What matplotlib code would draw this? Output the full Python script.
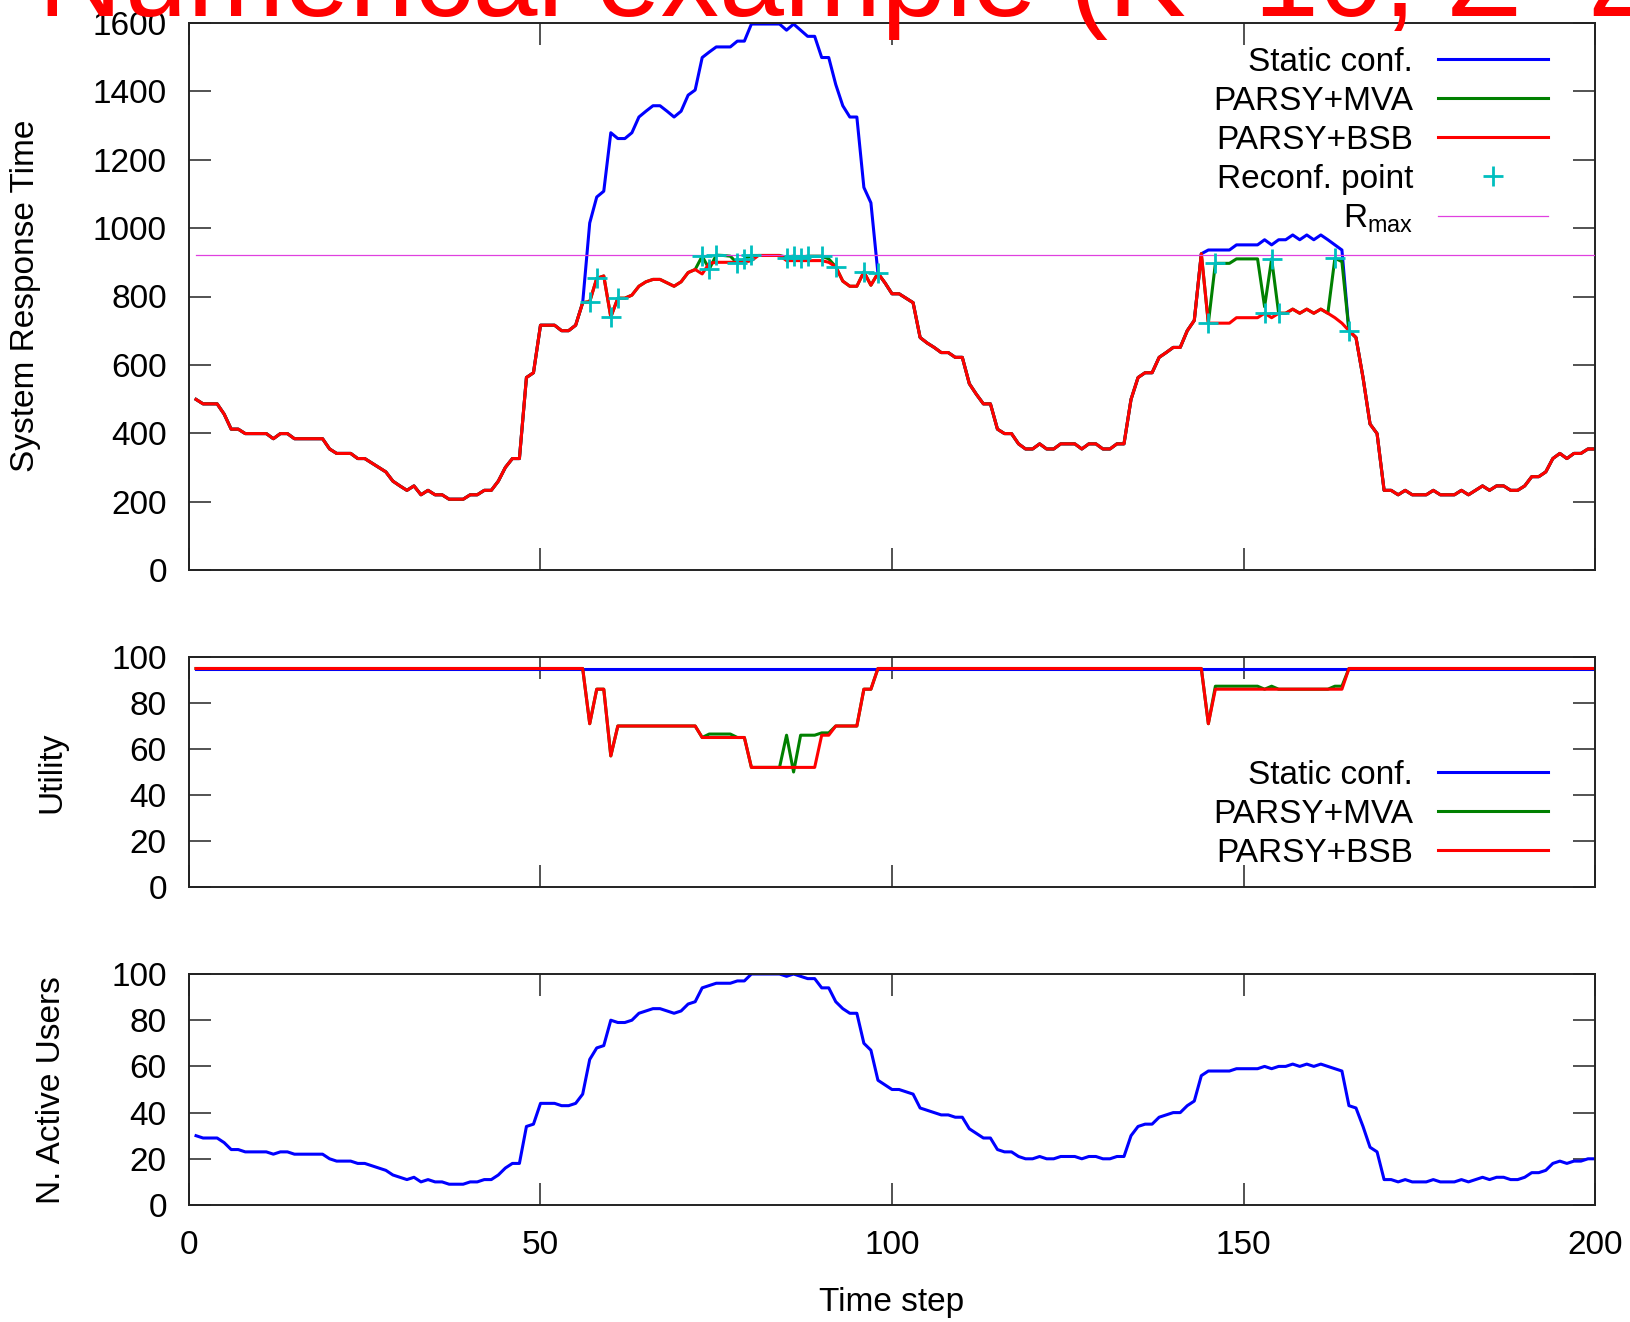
import matplotlib
matplotlib.use("Agg")
import matplotlib.pyplot as plt
import numpy as np

plt.rcParams['font.family'] = ['Liberation Sans', 'DejaVu Sans']
plt.rcParams['mathtext.fontset'] = 'custom'
plt.rcParams['mathtext.rm'] = 'Liberation Sans'
plt.rcParams['mathtext.it'] = 'Liberation Sans:italic'

# time steps 1..200
steps = np.arange(1, 201)

# number of active users per step
users = [
    30, 29, 29, 29, 27, 24, 24, 23, 23, 23, 23, 22, 23, 23, 22, 22, 22, 22, 22, 20,
    19, 19, 19, 18, 18, 17, 16, 15, 13, 12, 11, 12, 10, 11, 10, 10, 9, 9, 9, 10,
    10, 11, 11, 13, 16, 18, 18, 34, 35, 44, 44, 44, 43, 43, 44, 48, 63, 68, 69, 80,
    79, 79, 80, 83, 84, 85, 85, 84, 83, 84, 87, 88, 94, 95, 96, 96, 96, 97, 97, 100,
    100, 100, 100, 100, 99, 100, 99, 98, 98, 94, 94, 88, 85, 83, 83, 70, 67, 54, 52, 50,
    50, 49, 48, 42, 41, 40, 39, 39, 38, 38, 33, 31, 29, 29, 24, 23, 23, 21, 20, 20,
    21, 20, 20, 21, 21, 21, 20, 21, 21, 20, 20, 21, 21, 30, 34, 35, 35, 38, 39, 40,
    40, 43, 45, 56, 58, 58, 58, 58, 59, 59, 59, 59, 60, 59, 60, 60, 61, 60, 61, 60,
    61, 60, 59, 58, 43, 42, 34, 25, 23, 11, 11, 10, 11, 10, 10, 10, 11, 10, 10, 10,
    11, 10, 11, 12, 11, 12, 12, 11, 11, 12, 14, 14, 15, 18, 19, 18, 19, 19, 20, 20,
]

# system response time, static configuration
rt_static = [
    499, 486, 486, 486, 456, 412, 412, 399, 399, 399, 399, 384, 399, 399, 384, 384, 384, 384, 384, 354,
    341, 341, 341, 326, 326, 313, 300, 287, 260, 246, 233, 246, 220, 233, 220, 220, 207, 207, 207, 220,
    220, 233, 233, 260, 300, 326, 326, 563, 577, 716, 716, 716, 700, 700, 716, 782, 1015, 1091, 1108, 1279,
    1262, 1262, 1279, 1325, 1342, 1358, 1358, 1342, 1325, 1342, 1389, 1404, 1499, 1515, 1530, 1530, 1530, 1547, 1547, 1597,
    1597, 1597, 1597, 1597, 1579, 1597, 1579, 1561, 1561, 1499, 1499, 1420, 1358, 1325, 1325, 1119, 1074, 868, 840, 808,
    808, 795, 782, 680, 664, 651, 636, 636, 622, 622, 545, 514, 486, 486, 412, 399, 399, 369, 354, 354,
    369, 354, 354, 369, 369, 369, 354, 369, 369, 354, 354, 369, 369, 499, 563, 577, 577, 622, 636, 651,
    651, 700, 730, 925, 936, 936, 936, 936, 951, 951, 951, 951, 966, 951, 966, 966, 980, 966, 980, 966,
    980, 966, 951, 936, 700, 680, 563, 427, 399, 233, 233, 220, 233, 220, 220, 220, 233, 220, 220, 220,
    233, 220, 233, 246, 233, 246, 246, 233, 233, 246, 273, 273, 287, 326, 341, 326, 341, 341, 354, 354,
]

# PARSY+MVA
rt_mva = [
    499, 486, 486, 486, 456, 412, 412, 399, 399, 399, 399, 384, 399, 399, 384, 384, 384, 384, 384, 354,
    341, 341, 341, 326, 326, 313, 300, 287, 260, 246, 233, 246, 220, 233, 220, 220, 207, 207, 207, 220,
    220, 233, 233, 260, 300, 326, 326, 563, 577, 716, 716, 716, 700, 700, 716, 782, 785, 853, 860, 740,
    795, 795, 804, 830, 843, 850, 850, 840, 830, 843, 870, 879, 918, 880, 921, 920, 918, 897, 909, 920,
    920, 920, 920, 920, 915, 918, 915, 918, 918, 918, 910, 887, 845, 830, 830, 872, 833, 868, 840, 808,
    808, 795, 782, 680, 664, 651, 636, 636, 622, 622, 545, 514, 486, 486, 412, 399, 399, 369, 354, 354,
    369, 354, 354, 369, 369, 369, 354, 369, 369, 354, 354, 369, 369, 499, 563, 577, 577, 622, 636, 651,
    651, 700, 730, 925, 722, 897, 897, 897, 910, 910, 910, 910, 770, 910, 751, 751, 763, 751, 763, 751,
    763, 751, 912, 902, 700, 680, 563, 427, 399, 233, 233, 220, 233, 220, 220, 220, 233, 220, 220, 220,
    233, 220, 233, 246, 233, 246, 246, 233, 233, 246, 273, 273, 287, 326, 341, 326, 341, 341, 354, 354,
]

# PARSY+BSB
rt_bsb = [
    499, 486, 486, 486, 456, 412, 412, 399, 399, 399, 399, 384, 399, 399, 384, 384, 384, 384, 384, 354,
    341, 341, 341, 326, 326, 313, 300, 287, 260, 246, 233, 246, 220, 233, 220, 220, 207, 207, 207, 220,
    220, 233, 233, 260, 300, 326, 326, 563, 577, 716, 716, 716, 700, 700, 716, 782, 785, 853, 860, 740,
    795, 795, 804, 830, 843, 850, 850, 840, 830, 843, 870, 879, 866, 897, 900, 900, 900, 900, 900, 905,
    920, 920, 920, 920, 905, 905, 905, 905, 905, 905, 900, 887, 845, 830, 830, 872, 833, 868, 840, 808,
    808, 795, 782, 680, 664, 651, 636, 636, 622, 622, 545, 514, 486, 486, 412, 399, 399, 369, 354, 354,
    369, 354, 354, 369, 369, 369, 354, 369, 369, 354, 354, 369, 369, 499, 563, 577, 577, 622, 636, 651,
    651, 700, 730, 925, 722, 722, 722, 722, 738, 738, 738, 738, 751, 738, 751, 751, 763, 751, 763, 751,
    763, 751, 738, 722, 700, 680, 563, 427, 399, 233, 233, 220, 233, 220, 220, 220, 233, 220, 220, 220,
    233, 220, 233, 246, 233, 246, 246, 233, 233, 246, 273, 273, 287, 326, 341, 326, 341, 341, 354, 354,
]

# reconfiguration points
recon_steps = [57, 58, 60, 61, 73, 74, 75, 78, 79, 80, 85, 86, 87, 88, 90, 92, 96, 98,
               145, 146, 153, 154, 155, 163, 165]
recon_rt = [785, 853, 740, 795, 918, 880, 921, 897, 909, 921, 912, 918, 912, 918, 918, 887, 872, 868,
            722, 897, 751, 910, 751, 912, 700]

r_max = 920

# utility
util_static = [
    95, 95, 95, 95, 95, 95, 95, 95, 95, 95, 95, 95, 95, 95, 95, 95, 95, 95, 95, 95,
    95, 95, 95, 95, 95, 95, 95, 95, 95, 95, 95, 95, 95, 95, 95, 95, 95, 95, 95, 95,
    95, 95, 95, 95, 95, 95, 95, 95, 95, 95, 95, 95, 95, 95, 95, 95, 95, 95, 95, 95,
    95, 95, 95, 95, 95, 95, 95, 95, 95, 95, 95, 95, 95, 95, 95, 95, 95, 95, 95, 95,
    95, 95, 95, 95, 95, 95, 95, 95, 95, 95, 95, 95, 95, 95, 95, 95, 95, 95, 95, 95,
    95, 95, 95, 95, 95, 95, 95, 95, 95, 95, 95, 95, 95, 95, 95, 95, 95, 95, 95, 95,
    95, 95, 95, 95, 95, 95, 95, 95, 95, 95, 95, 95, 95, 95, 95, 95, 95, 95, 95, 95,
    95, 95, 95, 95, 95, 95, 95, 95, 95, 95, 95, 95, 95, 95, 95, 95, 95, 95, 95, 95,
    95, 95, 95, 95, 95, 95, 95, 95, 95, 95, 95, 95, 95, 95, 95, 95, 95, 95, 95, 95,
    95, 95, 95, 95, 95, 95, 95, 95, 95, 95, 95, 95, 95, 95, 95, 95, 95, 95, 95, 95,
]

util_mva = [
    95, 95, 95, 95, 95, 95, 95, 95, 95, 95, 95, 95, 95, 95, 95, 95, 95, 95, 95, 95,
    95, 95, 95, 95, 95, 95, 95, 95, 95, 95, 95, 95, 95, 95, 95, 95, 95, 95, 95, 95,
    95, 95, 95, 95, 95, 95, 95, 95, 95, 95, 95, 95, 95, 95, 95, 95, 71, 86, 86, 57,
    70, 70, 70, 70, 70, 70, 70, 70, 70, 70, 70, 70, 65, 66.5, 66.5, 66.5, 66.5, 65, 65, 52,
    52, 52, 52, 52, 66, 50, 66, 66, 66, 67, 67, 70, 70, 70, 70, 86, 86, 95, 95, 95,
    95, 95, 95, 95, 95, 95, 95, 95, 95, 95, 95, 95, 95, 95, 95, 95, 95, 95, 95, 95,
    95, 95, 95, 95, 95, 95, 95, 95, 95, 95, 95, 95, 95, 95, 95, 95, 95, 95, 95, 95,
    95, 95, 95, 95, 71, 87.3, 87.3, 87.3, 87.3, 87.3, 87.3, 87.3, 86, 87.3, 86, 86, 86, 86, 86, 86,
    86, 86, 87.3, 87.3, 95, 95, 95, 95, 95, 95, 95, 95, 95, 95, 95, 95, 95, 95, 95, 95,
    95, 95, 95, 95, 95, 95, 95, 95, 95, 95, 95, 95, 95, 95, 95, 95, 95, 95, 95, 95,
]

util_bsb = [
    95, 95, 95, 95, 95, 95, 95, 95, 95, 95, 95, 95, 95, 95, 95, 95, 95, 95, 95, 95,
    95, 95, 95, 95, 95, 95, 95, 95, 95, 95, 95, 95, 95, 95, 95, 95, 95, 95, 95, 95,
    95, 95, 95, 95, 95, 95, 95, 95, 95, 95, 95, 95, 95, 95, 95, 95, 71, 86, 86, 57,
    70, 70, 70, 70, 70, 70, 70, 70, 70, 70, 70, 70, 65, 65, 65, 65, 65, 65, 65, 52,
    52, 52, 52, 52, 52, 52, 52, 52, 52, 66, 66, 70, 70, 70, 70, 86, 86, 95, 95, 95,
    95, 95, 95, 95, 95, 95, 95, 95, 95, 95, 95, 95, 95, 95, 95, 95, 95, 95, 95, 95,
    95, 95, 95, 95, 95, 95, 95, 95, 95, 95, 95, 95, 95, 95, 95, 95, 95, 95, 95, 95,
    95, 95, 95, 95, 71, 86, 86, 86, 86, 86, 86, 86, 86, 86, 86, 86, 86, 86, 86, 86,
    86, 86, 86, 86, 95, 95, 95, 95, 95, 95, 95, 95, 95, 95, 95, 95, 95, 95, 95, 95,
    95, 95, 95, 95, 95, 95, 95, 95, 95, 95, 95, 95, 95, 95, 95, 95, 95, 95, 95, 95,
]

BLUE = '#0000ff'
GREEN = '#008000'
RED = '#ff0000'
CYAN = '#00bfbf'
MAGENTA = '#e040e0'
FS = 24
LW = 2.2

W, H = 1631, 1322
fig = plt.figure(figsize=(W / 100, H / 100), dpi=100)


# axes boxes in pixel units of the reference picture
def box(top, bottom, left=189, right=1595):
    return [left / W, 1 - bottom / H, (right - left) / W, (bottom - top) / H]


ax1 = fig.add_axes(box(23, 570))
ax2 = fig.add_axes(box(657, 887))
ax3 = fig.add_axes(box(974, 1205))

for ax in (ax1, ax2, ax3):
    ax.set_xlim(0, 200)
    ax.set_xticks([0, 50, 100, 150, 200])
    ax.tick_params(direction='in', length=16, width=1.3, color='#444444',
                   top=True, right=True, labelsize=FS)
    ax.tick_params(axis='y', pad=16)
    ax.tick_params(axis='x', pad=18)
    for s in ax.spines.values():
        s.set_linewidth(1.4)
        s.set_color('#222222')

# --- response time ---
ax1.plot(steps, rt_static, color=BLUE, lw=LW, label='Static conf.')
ax1.plot(steps, rt_mva, color=GREEN, lw=LW, label='PARSY+MVA')
ax1.plot(steps, rt_bsb, color=RED, lw=LW, label='PARSY+BSB')
ax1.plot(recon_steps, recon_rt, linestyle='none', marker='+', ms=15, mew=2,
         color=CYAN, label='Reconf. point', zorder=5)
ax1.axhline(r_max, xmin=1 / 200, color=MAGENTA, lw=0.9, label=r'R$_{\mathrm{max}}$', zorder=4)
ax1.set_ylim(0, 1600)
ax1.set_yticks(range(0, 1601, 200))
ax1.tick_params(axis='x', labelbottom=False)
ax1.legend(loc='upper right', bbox_to_anchor=(0.9666, 0.957), frameon=False,
           markerfirst=False, fontsize=FS, handlelength=3.3, handletextpad=0.75,
           labelspacing=0.24, borderaxespad=0, borderpad=0)

# --- utility ---
ax2.plot(steps, util_static, color=BLUE, lw=LW, label='Static conf.')
ax2.plot(steps, util_mva, color=GREEN, lw=LW, label='PARSY+MVA')
ax2.plot(steps, util_bsb, color=RED, lw=LW, label='PARSY+BSB')
ax2.set_ylim(0, 100)
ax2.set_yticks(range(0, 101, 20))
ax2.tick_params(axis='x', labelbottom=False)
ax2.legend(loc='upper right', bbox_to_anchor=(0.9666, 0.553), frameon=False,
           markerfirst=False, fontsize=FS, handlelength=3.3, handletextpad=0.75,
           labelspacing=0.24, borderaxespad=0, borderpad=0)

# --- active users ---
ax3.plot(steps, users, color=BLUE, lw=LW)
ax3.set_ylim(0, 100)
ax3.set_yticks(range(0, 101, 20))

# axis labels
fig.text(26 / W, 1 - 296 / H, 'System Response Time', rotation=90, ha='center', va='center', fontsize=FS)
fig.text(52 / W, 1 - 772 / H, 'Utility', rotation=90, ha='center', va='center', fontsize=FS)
fig.text(52 / W, 1 - 1090 / H, 'N. Active Users', rotation=90, ha='center', va='center', fontsize=FS)
fig.text(892 / W, 1 - 1302 / H, 'Time step', ha='center', va='center', fontsize=FS)

# slide title, cut at the top edge
fig.text(38 / W, 1 - 16 / H, 'Numerical example (K=10, Z=2)', color='#ff0000',
         fontsize=84, ha='left', va='baseline')

fig.savefig('out.png', dpi=100)
